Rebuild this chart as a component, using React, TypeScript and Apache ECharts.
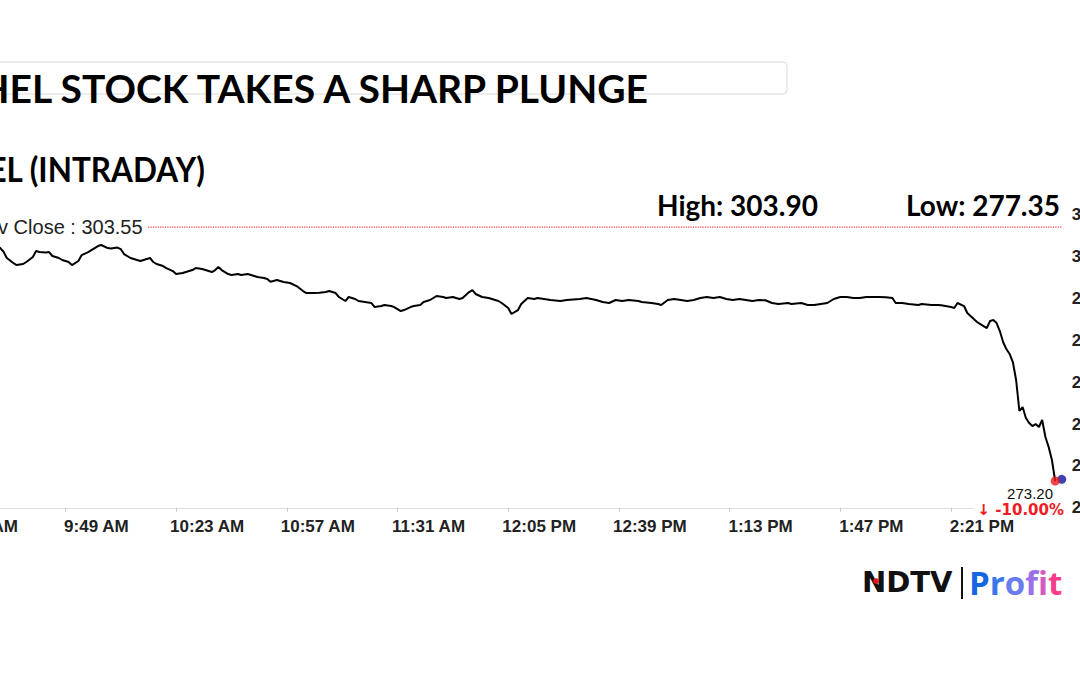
import { useEffect, useRef } from "react";
import * as echarts from "echarts";

// ---------- data ----------
const title = "BHEL STOCK TAKES A SHARP PLUNGE";
const subtitle = "BHEL (INTRADAY)";
const sessionOpen = 9 * 60 + 15; // minutes after midnight
const prevClose = 303.55;
const dayHigh = 303.9;
const dayLow = 277.35;

// minutes after 9:15 AM
const minutesMorning = [
  9, 11, 14, 15, 16, 18, 19, 21, 22, 24,
  25, 26, 28, 29, 30, 32, 33, 35, 36, 38,
  39, 41, 42, 44, 45, 47, 48, 50, 51, 52,
  54, 55, 57, 58, 60, 61, 62, 64, 65, 67,
  68, 70, 71, 73, 74, 76, 77, 79, 80, 81,
  82, 84, 85, 87, 88, 90, 92, 93, 95, 96,
  97, 99, 101, 103, 105, 107, 108, 110, 112, 114,
  115, 117, 118, 120, 121, 123, 124, 126, 128, 129,
  131, 132, 134, 135, 137, 138, 140, 141, 143, 144,
  146, 147, 148, 150, 151, 153, 155, 156, 158, 159,
  160, 162, 164,
];
const pricesMorning = [
  301.76, 301.52, 301.04, 300.6, 299.85, 299.25, 299.01, 299.13, 299.37, 299.97,
  300.68, 300.56, 300.5, 300.56, 300.09, 299.85, 299.61, 299.37, 299.01, 299.49,
  300.2, 300.56, 300.8, 301.28, 301.4, 301.04, 300.98, 301.1, 300.92, 300.32,
  299.85, 299.73, 299.49, 299.61, 299.85, 299.37, 299.13, 298.89, 298.65, 298.29,
  297.93, 298.05, 298.17, 298.41, 298.65, 298.53, 298.41, 298.17, 298.41, 298.77,
  298.41, 297.93, 297.82, 297.93, 297.82, 297.93, 297.7, 297.58, 297.46, 297.34,
  297.01, 297.22, 296.98, 296.86, 296.5, 295.9, 295.66, 295.66, 295.7, 295.78,
  295.9, 295.66, 295.19, 294.71, 295.19, 294.95, 294.71, 294.59, 294.47, 293.99,
  294.11, 294.23, 294.11, 293.99, 293.51, 293.63, 293.99, 294.11, 294.23, 294.59,
  294.83, 295.07, 295.31, 295.19, 295.07, 295.19, 294.95, 295.07, 295.78, 296.02,
  295.55, 295.19, 295.07,
];
const minutesAfternoon = [
  167, 168, 170, 171, 173, 174, 176, 178, 179, 183,
  186, 188, 190, 192, 194, 197, 199, 201, 203, 205,
  207, 210, 211, 214, 216, 217, 219, 221, 223, 225,
  227, 229, 231, 233, 235, 237, 239, 241, 243, 245,
  247, 249, 251, 253, 256, 257, 260, 262, 264, 266,
  268, 270, 272, 274, 276, 278, 280, 282, 284, 286,
  288, 289, 291, 293, 296, 297, 300, 302, 303, 306,
  307, 308, 310, 311, 312, 314, 315, 316, 317, 318,
  319, 320, 321, 322, 323, 324, 325, 326, 327, 328,
  329, 330, 331, 332, 333, 334, 335, 336, 337, 338,
];
const pricesAfternoon = [
  294.71, 294.47, 293.87, 293.16, 293.63, 294.35, 295.07, 294.95, 295.07, 294.83,
  294.71, 294.83, 294.9, 294.95, 295.07, 294.83, 294.59, 294.47, 294.83, 294.71,
  294.83, 294.71, 294.59, 294.47, 294.35, 294.23, 294.83, 294.95, 294.83, 294.71,
  294.83, 295.07, 295.19, 295.07, 295.19, 294.95, 294.83, 294.95, 294.83, 294.71,
  294.83, 294.8, 294.47, 294.35, 294.47, 294.35, 294.47, 294.23, 294.23, 294.35,
  294.47, 294.95, 295.19, 295.19, 295.07, 295.07, 295.19, 295.19, 295.19, 295.15,
  295.07, 294.47, 294.47, 294.35, 294.23, 294.35, 294.23, 294.23, 294.2, 293.99,
  293.87, 294.47, 294.11, 293.28, 292.92, 292.2, 291.96, 291.72, 291.48, 292.32,
  292.44, 292.08, 291.12, 289.81, 288.97, 288.38, 287.42, 285.27, 281.57, 282.04,
  280.73, 280.13, 279.77, 280.01, 279.65, 280.49, 278.46, 277.27, 275.71, 273.2,
];
// live-price marker (blue) placed just after the last trade
const liveMarker = [340, 273.4];
// prev-close reference line runs from this minute to the end of the axis
const prevCloseLineStart = 59.4;

// x-axis tick times (minutes after 9:15) : 9:15, 9:49, ... 2:21 PM
const xTickMinutes = [0, 34, 68, 102, 136, 170, 204, 238, 272, 306];
const yMin = 270;
const yMax = 305;
const yStep = 5;
const xMin = 0;
const xMax = 340;
// the time labels sit ~9.5 minutes to the right of their tick marks
const labelShift = 9.52;

// ---------- helpers ----------
function fmtTime(m: number): string {
  const t = Math.round(sessionOpen + m);
  const h = Math.floor(t / 60);
  const mm = t % 60;
  const ap = h >= 12 ? "PM" : "AM";
  const h12 = h > 12 ? h - 12 : h;
  return `${h12}:${String(mm).padStart(2, "0")} ${ap}`;
}

const OX = 60; // chart canvas is shifted 60px left of the page
const CW = 1180;
const CH = 675;
const SANS = "Liberation Sans, Arial, sans-serif";

export default function App() {
  const ref = useRef<HTMLDivElement>(null);

  useEffect(() => {
    if (!ref.current) return;
    const chart = echarts.init(ref.current, null, { renderer: "svg" });
    const minutes = [...minutesMorning, ...minutesAfternoon];
    const prices = [...pricesMorning, ...pricesAfternoon];
    const series = minutes.map((m, i) => [m, prices[i]]);
    const lastM = minutes[minutes.length - 1];
    const last = prices[prices.length - 1];
    const pct = ((last - prevClose) / prevClose) * 100;

    // grid geometry (canvas px)
    const gridLeft = OX - 45.3;
    const gridRightEdge = 1061.7 + OX;
    const gridTop = 214.9;
    const gridBottomEdge = 507.8;

    const profitColors = ["#1467e0", "#3a78ea", "#6a7cef", "#9c6fe8", "#d25bc2", "#f43c8a"];
    const profitRich: Record<string, any> = {};
    profitColors.forEach((c, i) => {
      profitRich["p" + i] = {
        fill: c,
        fontFamily: "Open Sans",
        fontWeight: "bold",
        fontSize: 33,
      };
    });
    const profitText = "Profit"
      .split("")
      .map((ch, i) => `{p${i}|${ch}}`)
      .join("");

    chart.setOption({
      animation: false,
      backgroundColor: "#ffffff",
      grid: {
        left: gridLeft,
        right: CW - gridRightEdge,
        top: gridTop,
        bottom: CH - gridBottomEdge,
        containLabel: false,
      },
      xAxis: [
        {
          type: "value",
          position: "bottom",
          min: xMin,
          max: xMax,
          axisLine: { show: true, lineStyle: { color: "#dddddd", width: 1 } },
          axisTick: {
            show: true,
            length: 4,
            customValues: xTickMinutes,
            lineStyle: { color: "#cccccc" },
          },
          splitLine: { show: false },
          axisLabel: { show: false },
        },
        {
          type: "value",
          position: "bottom",
          min: xMin - labelShift,
          max: xMax - labelShift,
          axisLine: { show: false },
          axisTick: { show: false },
          splitLine: { show: false },
          axisLabel: {
            show: true,
            customValues: xTickMinutes,
            showMinLabel: true,
            showMaxLabel: true,
            hideOverlap: false,
            margin: 10,
            color: "#222222",
            fontFamily: SANS,
            fontWeight: "bold",
            fontSize: 17,
            formatter: (v: number) => fmtTime(v),
          },
        },
      ],
      yAxis: {
        type: "value",
        position: "right",
        min: yMin,
        max: yMax,
        interval: yStep,
        axisLine: { show: false },
        axisTick: { show: false },
        splitLine: { show: false },
        axisLabel: {
          margin: 10,
          color: "#222222",
          fontFamily: SANS,
          fontWeight: "bold",
          fontSize: 17,
        },
      },
      series: [
        {
          type: "line",
          name: "prevClose",
          xAxisIndex: 0,
          data: [
            {
              value: [prevCloseLineStart, prevClose],
              label: {
                show: true,
                position: "left",
                distance: 5,
                formatter: `Prev Close : ${prevClose.toFixed(2)}`,
                color: "#222222",
                fontFamily: SANS,
                fontSize: 20,
              },
            },
            [xMax, prevClose],
          ],
          symbol: "circle",
          symbolSize: 1,
          showSymbol: true,
          itemStyle: { color: "rgba(255,59,59,0)", borderWidth: 0 },
          lineStyle: { color: "#ff3b3b", type: "dotted", width: 1.2 },
          silent: true,
          z: 2,
        },
        {
          type: "line",
          name: "price",
          xAxisIndex: 0,
          data: series,
          showSymbol: false,
          symbol: "none",
          lineStyle: { color: "#000000", width: 2 },
          z: 3,
        },
        {
          type: "scatter",
          xAxisIndex: 0,
          data: [liveMarker],
          symbolSize: 9,
          itemStyle: { color: "#12129e" },
          z: 4,
        },
        {
          type: "scatter",
          xAxisIndex: 0,
          data: [[lastM, last]],
          symbolSize: 9,
          itemStyle: { color: "#f01818" },
          z: 5,
        },
      ],
      graphic: [
        {
          type: "rect",
          z: 1,
          shape: { x: 0, y: 62, width: 787 + OX, height: 32, r: 4 },
          style: { fill: "#ffffff", stroke: "#dadada", lineWidth: 1 },
        },
        {
          type: "text",
          z: 10,
          x: 648 + OX,
          y: 88,
          style: {
            text: title,
            fill: "#000000",
            fontFamily: "Lato",
            fontWeight: "bold",
            fontSize: 39,
            align: "right",
            verticalAlign: "middle",
          },
        },
        {
          type: "text",
          z: 10,
          x: 205 + OX,
          y: 168,
          scaleX: 0.9,
          style: {
            text: subtitle,
            fill: "#000000",
            fontFamily: "Lato",
            fontWeight: "bold",
            fontSize: 35,
            align: "right",
            verticalAlign: "middle",
          },
        },
        {
          type: "text",
          z: 10,
          x: 657 + OX,
          y: 205,
          style: {
            text: `High: ${dayHigh.toFixed(2)}`,
            fill: "#000000",
            fontFamily: "Lato",
            fontWeight: "bold",
            fontSize: 28,
            align: "left",
            verticalAlign: "middle",
          },
        },
        {
          type: "text",
          z: 10,
          x: 1060 + OX,
          y: 205,
          style: {
            text: `Low: ${dayLow.toFixed(2)}`,
            fill: "#000000",
            fontFamily: "Lato",
            fontWeight: "bold",
            fontSize: 28,
            align: "right",
            verticalAlign: "middle",
          },
        },
        {
          type: "text",
          z: 10,
          x: 1053 + OX,
          y: 493,
          style: {
            text: last.toFixed(2),
            fill: "#111111",
            fontFamily: SANS,
            fontSize: 15,
            align: "right",
            verticalAlign: "middle",
          },
        },
        {
          type: "text",
          z: 10,
          x: 1066 + OX,
          y: 510,
          style: {
            text: `↓ ${pct.toFixed(2)}%`,
            fill: "#ee1c25",
            fontFamily: "DejaVu Sans, Liberation Sans, sans-serif",
            fontWeight: "bold",
            fontSize: 15,
            align: "right",
            verticalAlign: "middle",
            backgroundColor: "#ffffff",
            padding: [1, 2, 1, 4],
          },
        },
        // NDTV | Profit logo
        {
          type: "text",
          z: 10,
          x: 862 + OX,
          y: 582,
          style: {
            text: "NDTV",
            fill: "#111111",
            fontFamily: "DejaVu Sans",
            fontWeight: "bold",
            fontSize: 29,
            align: "left",
            verticalAlign: "middle",
          },
        },
        {
          type: "circle",
          z: 11,
          shape: { cx: 876 + OX, cy: 581, r: 2.8 },
          style: { fill: "#e8141e" },
        },
        {
          type: "line",
          z: 10,
          shape: { x1: 962 + OX, y1: 567, x2: 962 + OX, y2: 599 },
          style: { stroke: "#111111", lineWidth: 2 },
        },
        {
          type: "text",
          z: 10,
          x: 969 + OX,
          y: 582,
          style: {
            text: profitText,
            rich: profitRich,
            fill: "#1467e0",
            fontFamily: "Open Sans",
            fontWeight: "bold",
            fontSize: 33,
            align: "left",
            verticalAlign: "middle",
          },
        },
      ],
    });

    return () => chart.dispose();
  }, []);

  return (
    <div
      style={{
        position: "fixed",
        left: 0,
        top: 0,
        width: 1080,
        height: 675,
        overflow: "hidden",
        background: "#ffffff",
      }}
    >
      <div
        ref={ref}
        style={{ position: "absolute", left: -OX, top: 0, width: CW, height: CH }}
      />
    </div>
  );
}
